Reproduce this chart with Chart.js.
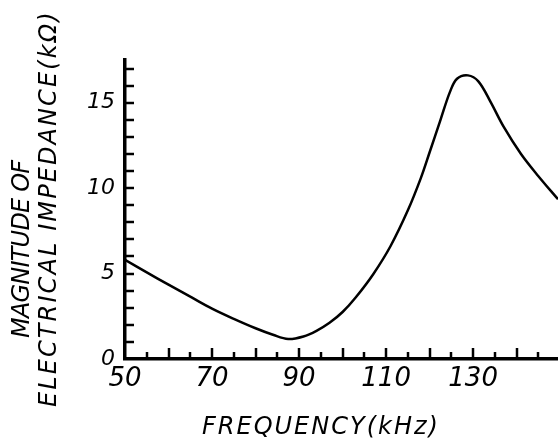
<!DOCTYPE html>
<html>
<head>
<meta charset="utf-8">
<script src="https://cdn.jsdelivr.net/npm/chart.js@4"></script>
<style>
html,body{margin:0;padding:0;background:#fff;overflow:hidden}
#wrap{width:558px;height:448px;position:relative}
</style>
</head>
<body>
<div id="wrap"><canvas id="c" width="558" height="448"></canvas></div>
<script>
// ---- data ----
const frequencyKHz = [50, 55, 60, 65, 70, 75, 80, 84, 87.5, 91, 94, 97, 100, 103, 107, 111, 115, 118, 120, 122.5, 124.7, 126.3, 128.8, 131.2, 134, 137, 141, 145, 149.5];
const impedanceKOhm = [5.8, 5.07, 4.35, 3.65, 2.95, 2.35, 1.8, 1.42, 1.17, 1.32, 1.65, 2.12, 2.75, 3.6, 4.95, 6.6, 8.7, 10.6, 12.1, 14.0, 15.65, 16.4, 16.6, 16.25, 15.05, 13.6, 12.0, 10.7, 9.35];
const xTickLabels = [50, 70, 90, 110, 130];
const yTickLabels = [0, 5, 10, 15];
const xTitle = 'FREQUENCY(kHz)';
const yTitleLines = ['MAGNITUDE OF', 'ELECTRICAL IMPEDANCE(kΩ)'];

const FONT = "'DejaVu Sans', sans-serif";

const handPlugin = {
  id: 'hand',
  afterDraw(chart) {
    const {ctx, chartArea: a, scales: {x, y}} = chart;
    ctx.save();
    ctx.strokeStyle = '#000';
    ctx.lineWidth = 2.5;
    // inward tick marks on the x axis (every 5 kHz, taller each 10 kHz)
    for (let v = x.min + 5; v < x.max; v += 5) {
      const px = Math.round(x.getPixelForValue(v));
      const len = (v % 10 === 0) ? 11 : 7;
      ctx.beginPath(); ctx.moveTo(px, a.bottom); ctx.lineTo(px, a.bottom - len); ctx.stroke();
    }
    // inward tick marks on the y axis (every 1 kΩ)
    for (let v = 1; v <= y.max; v += 1) {
      const py = Math.round(y.getPixelForValue(v));
      ctx.beginPath(); ctx.moveTo(a.left, py); ctx.lineTo(a.left + 9, py); ctx.stroke();
    }
    // axis titles
    ctx.fillStyle = '#000';
    ctx.font = `italic 24px ${FONT}`;
    ctx.textAlign = 'left';
    ctx.textBaseline = 'alphabetic';
    ctx.letterSpacing = '2px';
    ctx.fillText(xTitle, 202, 434);

    ctx.save();
    ctx.translate(29, 338);
    ctx.rotate(-Math.PI / 2);
    ctx.letterSpacing = '-0.8px';
    ctx.fillText(yTitleLines[0], 0, 0);
    ctx.restore();

    ctx.save();
    ctx.translate(56, 407);
    ctx.rotate(-Math.PI / 2);
    ctx.letterSpacing = '2.1px';
    ctx.fillText(yTitleLines[1], 0, 0);
    ctx.restore();

    ctx.restore();
  }
};

new Chart(document.getElementById('c'), {
  type: 'line',
  data: {
    datasets: [{
      data: frequencyKHz.map((f, i) => ({x: f, y: impedanceKOhm[i]})),
      borderColor: '#000',
      borderWidth: 2.5,
      pointRadius: 0,
      fill: false,
      tension: 0.35
    }]
  },
  options: {
    responsive: false,
    animation: false,
    devicePixelRatio: 1,
    layout: {padding: {top: 60, left: 0, right: 0, bottom: 0}},
    plugins: {legend: {display: false}, tooltip: {enabled: false}},
    scales: {
      x: {
        type: 'linear',
        min: 50,
        max: 149.5,
        afterBuildTicks: s => { s.ticks = xTickLabels.map(v => ({value: v})); },
        afterFit: s => { s.height = 89; },
        grid: {display: false, drawTicks: false},
        border: {display: true, color: '#000', width: 3.5},
        ticks: {color: '#000', padding: 5, maxRotation: 0, autoSkip: false,
                font: {family: FONT, size: 26, style: 'italic'}}
      },
      y: {
        type: 'linear',
        min: 0,
        max: 17.5,
        afterBuildTicks: s => { s.ticks = yTickLabels.map(v => ({value: v})); },
        afterFit: s => { s.width = 125; },
        grid: {display: false, drawTicks: false},
        border: {display: true, color: '#000', width: 3.5},
        ticks: {color: '#000', padding: 10, autoSkip: false,
                font: {family: FONT, size: 22, style: 'italic'}}
      }
    }
  },
  plugins: [handPlugin]
});
</script>
</body>
</html>
